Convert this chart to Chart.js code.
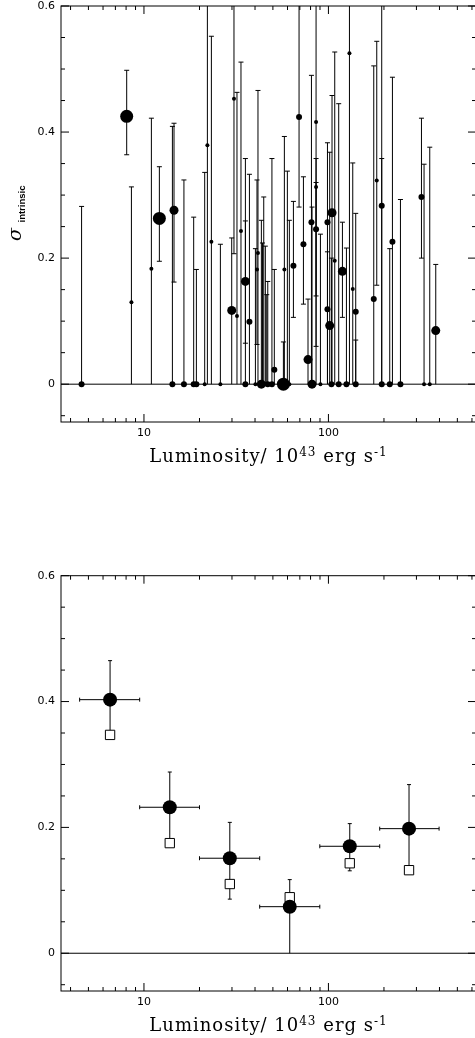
<!DOCTYPE html>
<html><head><meta charset="utf-8">
<script src="https://cdn.jsdelivr.net/npm/chart.js@4.4.1/dist/chart.umd.min.js"></script>
<style>
html,body{margin:0;padding:0;background:#fff;overflow:hidden;width:475px;height:1038px;position:relative;}
canvas{display:block;position:absolute;left:0;}
#c1{top:0}
#c2{top:519px}
</style></head><body>
<canvas id="c1" width="480" height="519"></canvas>
<canvas id="c2" width="480" height="519"></canvas>
<script>
// ---------- top panel: individual objects ----------
const topL = [4.59, 8.06, 8.55, 10.97, 12.12, 14.55, 14.26, 16.47, 18.6, 19.24,
  21.34, 22.07, 23.2, 25.96, 29.9, 30.76, 31.93, 33.57, 35.47, 35.47,
  37.3, 40.2, 41.0, 41.5, 43.3, 43.9, 44.6, 45.5, 46.3, 46.9,
  49.4, 50.9, 57.0, 57.7, 59.9, 61.4, 64.6, 69.3, 73.2, 77.5,
  80.9, 81.5, 85.7, 85.7, 85.7, 90.5, 98.8, 98.8, 101.6, 104.6,
  103.8, 108.2, 113.7, 119.1, 125.2, 130.0, 135.5, 140.6, 140.6, 176.1,
  182.8, 194.5, 194.5, 215.0, 222.3, 245.7, 319.4, 329.9, 354.3, 381.8];
const topSigma = [0, 0.425, 0.130, 0.183, 0.263, 0.276, 0, 0, 0, 0,
  0, 0.379, 0.226, 0, 0.117, 0.453, 0.108, 0.243, 0.163, 0,
  0.099, 0, 0.182, 0.208, 0, 0, 0, 0, 0, 0,
  0, 0.023, 0, 0.182, 0, 0, 0.188, 0.424, 0.222, 0.039,
  0.257, 0, 0.416, 0.313, 0.246, 0, 0.257, 0.119, 0.093, 0.272,
  0, 0.196, 0, 0.179, 0, 0.525, 0.151, 0.115, 0, 0.135,
  0.323, 0.283, 0, 0, 0.226, 0, 0.297, 0, 0, 0.085];
const topLow = [0, 0.364, 0, 0, 0.195, 0.162, 0, 0, 0, 0,
  0, 0, 0, 0, 0, 0.207, 0, 0, 0.065, 0,
  0, 0, 0.063, 0, 0, 0, 0, 0, 0, 0,
  0, 0, 0, 0, 0, 0, 0.106, 0.281, 0.127, 0,
  0, 0, 0, 0.14, 0.06, 0, 0, 0, 0, 0,
  0, 0, 0, 0.106, 0, 0, 0, 0, 0, 0,
  0.157, 0, 0, 0, 0, 0, 0.2, 0, 0, 0];
const topHigh = [0.282, 0.498, 0.313, 0.422, 0.345, 0.414, 0.409, 0.324, 0.265, 0.182,
  0.336, 0.65, 0.552, 0.222, 0.232, 0.65, 0.463, 0.511, 0.358, 0.259,
  0.333, 0.215, 0.324, 0.466, 0.26, 0.224, 0.297, 0.219, 0.142, 0.163,
  0.358, 0.182, 0.067, 0.393, 0.338, 0.26, 0.29, 0.65, 0.329, 0.135,
  0.49, 0.281, 0.65, 0.358, 0.32, 0.238, 0.383, 0.21, 0.368, 0.458,
  0.20, 0.527, 0.445, 0.257, 0.216, 0.65, 0.351, 0.271, 0.07, 0.505,
  0.544, 0.65, 0.358, 0.215, 0.487, 0.293, 0.422, 0.349, 0.376, 0.19];
// weight class of each object (marker size class 1..4)
const topClass = [2, 4, 1, 1, 4, 3, 2, 2, 2, 2,
  1, 1, 1, 1, 3, 1, 1, 1, 3, 2,
  2, 1, 1, 1, 3, 1, 1, 1, 1, 2,
  2, 2, 4, 1, 1, 1, 2, 2, 2, 3,
  2, 3, 1, 1, 2, 1, 2, 2, 3, 3,
  2, 1, 2, 3, 2, 1, 1, 2, 2, 2,
  1, 2, 2, 2, 2, 2, 2, 1, 1, 3];

// ---------- bottom panel: binned ----------
const binL     = [6.55, 13.8, 29.2, 61.7, 130.5, 273.5];
const binLmin  = [4.48, 9.48, 20.0, 42.4, 89.8, 189.7];
const binLmax  = [9.48, 20.0, 42.4, 89.8, 189.7, 398];
const binSigma = [0.403, 0.232, 0.151, 0.074, 0.170, 0.198];
const binLow   = [0.351, 0.18, 0.086, 0, 0.131, 0.132];
const binHigh  = [0.465, 0.288, 0.208, 0.117, 0.206, 0.268];
const binSquare= [0.347, 0.175, 0.110, 0.089, 0.143, 0.132];

// ---------- axes ----------
const xRange = [3.55, 631];
const yRange = [-0.06, 0.6];
const xMajorTicks = [10, 100];
const xMinorTicks = [4, 5, 6, 7, 8, 9, 20, 30, 40, 50, 60, 70, 80, 90, 200, 300, 400, 500, 600];
const yMajorTicks = [0, 0.2, 0.4, 0.6];
const yMinorTicks = [-0.05, 0.05, 0.1, 0.15, 0.25, 0.3, 0.35, 0.45, 0.5, 0.55];
const xTitleMain = ['Luminosity/ 10', ' erg s'];
const xTitleSup = ['43', '-1'];
const yTitleMain = 'σ';
const yTitleSub = 'intrinsic';

const classRadius = {1: 2, 2: 3, 3: 4.5, 4: 6.5};

function drawXTitle(ctx, cx, base) {
  const mainF = '18px "DejaVu Serif"', supF = '12px "DejaVu Serif"';
  const segs = [[xTitleMain[0], mainF, 0], [xTitleSup[0], supF, -6], [xTitleMain[1], mainF, 0], [xTitleSup[1], supF, -6]];
  ctx.save();
  ctx.fillStyle = '#000';
  ctx.textBaseline = 'alphabetic';
  ctx.textAlign = 'left';
  try { ctx.letterSpacing = '1px'; } catch (e) {}
  let total = 0;
  segs.forEach(s => { ctx.font = s[1]; total += ctx.measureText(s[0]).width; });
  let x = cx - total / 2;
  segs.forEach(s => { ctx.font = s[1]; ctx.fillText(s[0], x, base + s[2]); x += ctx.measureText(s[0]).width; });
  ctx.restore();
}

function drawYTitle(ctx) {
  ctx.save();
  ctx.fillStyle = '#000';
  ctx.translate(20.5, 241);
  ctx.rotate(-Math.PI / 2);
  ctx.textAlign = 'left';
  ctx.textBaseline = 'alphabetic';
  ctx.font = 'italic 19px "DejaVu Serif"';
  ctx.fillText(yTitleMain, 0, 0);
  ctx.font = 'bold 9.5px "Liberation Sans"';
  ctx.fillText(yTitleSub, 18.5, 4.5);
  ctx.restore();
}

function axesPlugin(name, errFn, withYTitle) {
  return {
    id: 'axes_' + name,
    beforeDatasetsDraw(chart) {
      const {ctx, chartArea: a, scales: {x, y}} = chart;
      ctx.save();
      ctx.beginPath();
      ctx.rect(a.left, a.top, a.right - a.left, a.bottom - a.top);
      ctx.clip();
      ctx.strokeStyle = '#000';
      ctx.lineWidth = 1;
      const y0 = y.getPixelForValue(0);
      ctx.beginPath(); ctx.moveTo(a.left, y0); ctx.lineTo(a.right, y0); ctx.stroke();
      errFn(ctx, x, y);
      ctx.restore();
    },
    afterDraw(chart) {
      const {ctx, chartArea: a, scales: {x, y}} = chart;
      ctx.save();
      ctx.strokeStyle = '#000';
      ctx.lineWidth = 1;
      ctx.strokeRect(a.left, a.top, a.right - a.left, a.bottom - a.top);
      ctx.beginPath();
      const xt = (v, len) => {
        const px = x.getPixelForValue(v);
        ctx.moveTo(px, a.bottom); ctx.lineTo(px, a.bottom - len);
        ctx.moveTo(px, a.top); ctx.lineTo(px, a.top + len);
      };
      const yt = (v, len) => {
        const py = y.getPixelForValue(v);
        ctx.moveTo(a.left, py); ctx.lineTo(a.left + len, py);
        ctx.moveTo(a.right, py); ctx.lineTo(a.right - len, py);
      };
      xMajorTicks.forEach(v => xt(v, 8));
      xMinorTicks.forEach(v => xt(v, 4));
      yMajorTicks.forEach(v => yt(v, 8));
      yMinorTicks.forEach(v => yt(v, 4));
      ctx.stroke();
      ctx.restore();
      drawXTitle(ctx, (a.left + a.right) / 2, a.bottom + 39.7);
      if (withYTitle) drawYTitle(ctx);
    }
  };
}

function scalesFor(xHeight) {
  const font = {family: 'DejaVu Sans', size: 11, lineHeight: 1};
  return {
    x: {
      type: 'logarithmic', position: 'bottom', min: xRange[0], max: xRange[1],
      grid: {display: false, drawTicks: false}, border: {display: false},
      ticks: {font, color: '#000', padding: 6, maxRotation: 0, autoSkip: false, callback: v => String(v)},
      afterBuildTicks: s => { s.ticks = xMajorTicks.map(v => ({value: v})); },
      afterFit: s => { s.height = xHeight; s.paddingLeft = 0; s.paddingRight = 0; }
    },
    y: {
      type: 'linear', position: 'left', min: yRange[0], max: yRange[1],
      grid: {display: false, drawTicks: false}, border: {display: false},
      ticks: {font, color: '#000', padding: 6, callback: v => (v === 0 ? '0' : v.toFixed(1))},
      afterBuildTicks: s => { s.ticks = yMajorTicks.map(v => ({value: v})); },
      afterFit: s => { s.width = 61; s.paddingTop = 0; s.paddingBottom = 0; }
    }
  };
}

// top chart
const topErr = (ctx, x, y) => {
  ctx.beginPath();
  for (let i = 0; i < topL.length; i++) {
    const px = x.getPixelForValue(topL[i]);
    const lo = y.getPixelForValue(topLow[i]);
    const hi = y.getPixelForValue(topHigh[i]);
    ctx.moveTo(px, lo); ctx.lineTo(px, hi);
    ctx.moveTo(px - 2.5, hi); ctx.lineTo(px + 2.5, hi);
    if (topLow[i] > 0) { ctx.moveTo(px - 2.5, lo); ctx.lineTo(px + 2.5, lo); }
  }
  ctx.stroke();
};

new Chart(document.getElementById('c1'), {
  type: 'scatter',
  data: {
    datasets: [{
      data: topL.map((v, i) => ({x: v, y: topSigma[i]})),
      pointRadius: topClass.map(c => classRadius[c]),
      pointBackgroundColor: '#000',
      pointBorderWidth: 0,
      pointHoverRadius: topClass.map(c => classRadius[c]),
      showLine: false
    }]
  },
  options: {
    responsive: false, animation: false, devicePixelRatio: 1,
    layout: {autoPadding: false, padding: {left: 0, top: 6, right: 4, bottom: 0}},
    plugins: {legend: {display: false}, tooltip: {enabled: false}},
    scales: scalesFor(519 - 422)
  },
  plugins: [axesPlugin('top', topErr, true)]
});

// bottom chart
const binErr = (ctx, x, y) => {
  ctx.beginPath();
  for (let i = 0; i < binL.length; i++) {
    const px = x.getPixelForValue(binL[i]);
    const py = y.getPixelForValue(binSigma[i]);
    const x1 = x.getPixelForValue(binLmin[i]);
    const x2 = x.getPixelForValue(binLmax[i]);
    const lo = y.getPixelForValue(binLow[i]);
    const hi = y.getPixelForValue(binHigh[i]);
    ctx.moveTo(x1, py); ctx.lineTo(x2, py);
    ctx.moveTo(x1, py - 2); ctx.lineTo(x1, py + 2);
    ctx.moveTo(x2, py - 2); ctx.lineTo(x2, py + 2);
    ctx.moveTo(px, lo); ctx.lineTo(px, hi);
    ctx.moveTo(px - 2, hi); ctx.lineTo(px + 2, hi);
    if (binLow[i] > 0) { ctx.moveTo(px - 2, lo); ctx.lineTo(px + 2, lo); }
  }
  ctx.stroke();
};

new Chart(document.getElementById('c2'), {
  type: 'scatter',
  data: {
    datasets: [{
      data: binL.map((v, i) => ({x: v, y: binSigma[i]})),
      pointRadius: 7, pointHoverRadius: 7,
      pointBackgroundColor: '#000', pointBorderWidth: 0
    }, {
      data: binL.map((v, i) => ({x: v, y: binSquare[i]})),
      pointStyle: 'rect', pointRadius: 6.6, pointHoverRadius: 6.6,
      pointBackgroundColor: '#fff', pointBorderColor: '#000', pointBorderWidth: 1
    }]
  },
  options: {
    responsive: false, animation: false, devicePixelRatio: 1,
    layout: {autoPadding: false, padding: {left: 0, top: 56.7, right: 4, bottom: 0}},
    plugins: {legend: {display: false}, tooltip: {enabled: false}},
    scales: scalesFor(519 - 472)
  },
  plugins: [axesPlugin('bottom', binErr, false)]
});
</script>
</body></html>
